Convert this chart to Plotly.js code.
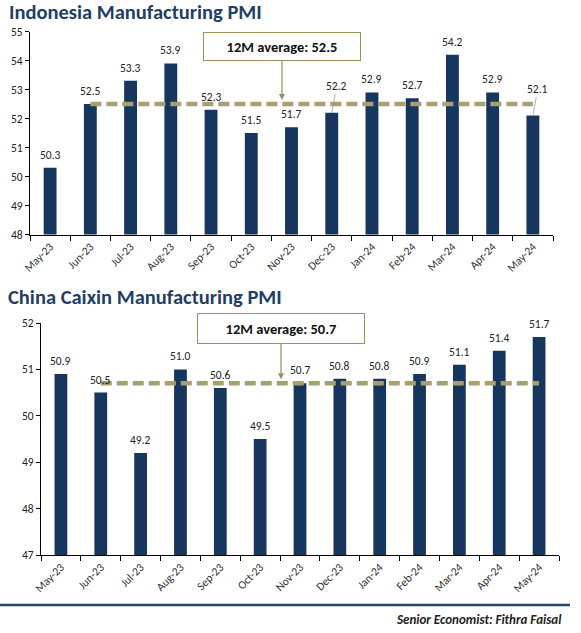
<!DOCTYPE html>
<html>
<head>
<meta charset="utf-8">
<script src="https://cdn.plot.ly/plotly-3.0.1.min.js"></script>
<style>html,body{margin:0;padding:0;background:#fff;}#chart{width:581px;height:633px;}</style>
</head>
<body>
<div id="chart"></div>
<script>
const months = ['May-23','Jun-23','Jul-23','Aug-23','Sep-23','Oct-23','Nov-23','Dec-23','Jan-24','Feb-24','Mar-24','Apr-24','May-24'];
const idnPmi = [50.3,52.5,53.3,53.9,52.3,51.5,51.7,52.2,52.9,52.7,54.2,52.9,52.1];
const chnPmi = [50.9,50.5,49.2,51.0,50.6,49.5,50.7,50.8,50.8,50.9,51.1,51.4,51.7];
const idnAvg = 52.5;
const chnAvg = 50.7;
const idnTitle = 'Indonesia Manufacturing PMI';
const chnTitle = 'China Caixin Manufacturing PMI';
const footer = 'Senior Economist: Fithra Faisal';

const W = 581, H = 633;
const FONT = 'Carlito, Lato, "Open Sans", sans-serif';
const barColor = '#17365D';
const avgColor = '#A89F70';
const boxColor = '#9C8F55';
const titleColor = '#1F3F66';

function px(x){return x/W;}
function py(y){return 1 - y/H;}

const traces = [
  {type:'bar', x:months, y:idnPmi, xaxis:'x', yaxis:'y', marker:{color:barColor}, hoverinfo:'skip'},
  {type:'scatter', mode:'lines', x:[months[1], months[12]], y:[idnAvg, idnAvg], xaxis:'x', yaxis:'y',
   line:{color:avgColor, width:4.5, dash:'11px,5px'}, hoverinfo:'skip'},
  {type:'bar', x:months, y:chnPmi, xaxis:'x2', yaxis:'y2', marker:{color:barColor}, hoverinfo:'skip'},
  {type:'scatter', mode:'lines', x:[months[1], months[12]], y:[chnAvg, chnAvg], xaxis:'x2', yaxis:'y2',
   line:{color:avgColor, width:4.5, dash:'11px,5px'}, hoverinfo:'skip'}
];

const annotations = [];
const labelFont = {family:FONT, size:11.5, color:'#222'};
const idnLeader = {7:true, 12:true};
idnPmi.forEach((v,i)=>{
  if (idnLeader[i]) {
    annotations.push({xref:'x', yref:'y', x:months[i], y:v, text:v.toFixed(1), font:labelFont,
      showarrow:true, arrowhead:0, arrowwidth:0.8, arrowcolor:'#999', ax:5, ay:-27, standoff:0});
  } else {
    annotations.push({xref:'x', yref:'y', x:months[i], y:v, text:v.toFixed(1), font:labelFont,
      showarrow:false, yanchor:'bottom', yshift:4});
  }
});
chnPmi.forEach((v,i)=>{
  annotations.push({xref:'x2', yref:'y2', x:months[i], y:v, text:v.toFixed(1), font:labelFont,
    showarrow:false, yanchor:'bottom', yshift:4});
});

// average callouts
annotations.push({xref:'paper', yref:'y', x:px(282), y:idnAvg, text:'<b>12M average: ' + idnAvg.toFixed(1) + '</b>',
  font:{family:FONT, size:14.5, color:'#111'}, showarrow:true, arrowhead:2, arrowsize:1, arrowwidth:1.2,
  arrowcolor:boxColor, ax:0, ay:-58, standoff:4, bordercolor:boxColor, borderwidth:1, borderpad:2,
  bgcolor:'#fff', width:152, height:23});
annotations.push({xref:'paper', yref:'y2', x:px(281), y:chnAvg, text:'<b>12M average: ' + chnAvg.toFixed(1) + '</b>',
  font:{family:FONT, size:14.5, color:'#111'}, showarrow:true, arrowhead:2, arrowsize:1, arrowwidth:1.2,
  arrowcolor:boxColor, ax:0, ay:-55, standoff:4, bordercolor:boxColor, borderwidth:1, borderpad:2,
  bgcolor:'#fff', width:162, height:25});

// titles
annotations.push({xref:'paper', yref:'paper', x:px(7), y:py(12), xanchor:'left', yanchor:'middle',
  text:'<b>' + idnTitle + '</b>', showarrow:false, font:{family:FONT, size:20.5, color:titleColor}});
annotations.push({xref:'paper', yref:'paper', x:px(6), y:py(297), xanchor:'left', yanchor:'middle',
  text:'<b>' + chnTitle + '</b>', showarrow:false, font:{family:FONT, size:20.5, color:titleColor}});
annotations.push({xref:'paper', yref:'paper', x:px(564), y:py(619), xanchor:'right', yanchor:'middle',
  text:'<b><i>' + footer + '</i></b>', showarrow:false, font:{family:FONT, size:13, color:'#222'}});

const xaxisBase = {type:'category', tickson:'boundaries', ticks:'outside', ticklen:5, tickcolor:'#000',
  showline:true, linecolor:'#000', linewidth:1, showgrid:false, zeroline:false, tickangle:-45,
  tickfont:{family:FONT, size:11.5, color:'#333'}, range:[-0.5, 12.5], fixedrange:true};
const yaxisBase = {ticks:'outside', ticklen:4, tickcolor:'#000', showline:true, linecolor:'#000', linewidth:1,
  showgrid:false, zeroline:false, dtick:1, tickfont:{family:FONT, size:11.5, color:'#222'}, fixedrange:true};

const layout = {
  width:W, height:H, margin:{l:0,r:0,t:0,b:0}, paper_bgcolor:'#fff', plot_bgcolor:'#fff',
  showlegend:false, bargap:0.68,
  font:{family:FONT},
  xaxis:Object.assign({}, xaxisBase, {domain:[px(30), px(553)], anchor:'y'}),
  yaxis:Object.assign({}, yaxisBase, {domain:[py(234.5), py(31.5)], range:[48,55], anchor:'x'}),
  xaxis2:Object.assign({}, xaxisBase, {domain:[px(41), px(559)], anchor:'y2'}),
  yaxis2:Object.assign({}, yaxisBase, {domain:[py(555), py(323)], range:[47,52], anchor:'x2'}),
  annotations:annotations,
  shapes:[
    {type:'line', xref:'paper', yref:'paper', x0:0, x1:px(570), y0:py(605), y1:py(605),
     line:{color:'#2A4670', width:2.5}}
  ]
};

Plotly.newPlot('chart', traces, layout, {staticPlot:true, displayModeBar:false});
</script>
</body>
</html>
